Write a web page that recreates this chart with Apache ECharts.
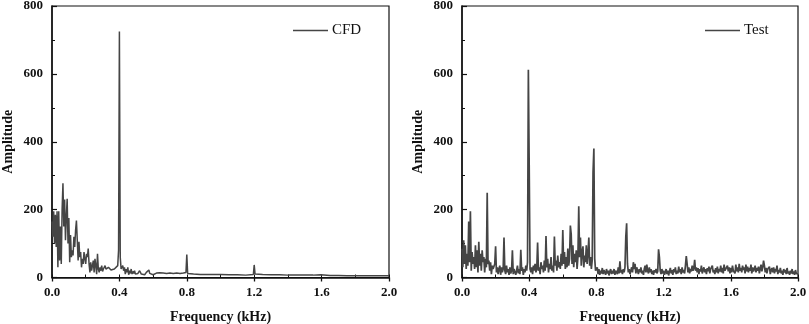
<!DOCTYPE html>
<html>
<head>
<meta charset="utf-8">
<script src="https://cdn.jsdelivr.net/npm/echarts/dist/echarts.min.js"></script>
<style>
  html, body { margin: 0; padding: 0; background: #fff; }
  #main { width: 809px; height: 324px; }
</style>
</head>
<body>
<div id="main"></div>
<script>
// x ticks / y ticks
const xTicks = [0.0, 0.4, 0.8, 1.2, 1.6, 2.0];
const yTicks = [0, 200, 400, 600, 800];

// CFD spectrum, [frequency kHz, amplitude]
const cfdPoints = [
  [0.000, 165], [0.005, 120], [0.010, 195], [0.015, 100], [0.020, 185], [0.025, 90],
  [0.030, 195], [0.035, 30], [0.040, 195], [0.045, 50], [0.050, 150], [0.055, 40],
  [0.060, 200], [0.065, 278], [0.070, 150], [0.075, 230], [0.080, 110], [0.085, 180],
  [0.090, 232], [0.095, 100], [0.100, 175], [0.105, 45], [0.110, 125], [0.115, 60],
  [0.120, 80], [0.125, 65], [0.130, 120], [0.135, 90], [0.140, 140], [0.145, 168],
  [0.150, 110], [0.155, 50], [0.160, 105], [0.165, 60], [0.170, 75], [0.175, 30],
  [0.180, 55], [0.185, 40], [0.190, 75], [0.195, 55], [0.200, 40], [0.205, 70],
  [0.210, 60], [0.215, 85], [0.220, 40], [0.225, 15], [0.230, 45], [0.235, 20],
  [0.240, 25], [0.245, 50], [0.250, 15], [0.255, 55], [0.260, 35], [0.265, 10],
  [0.270, 70], [0.275, 25], [0.280, 15], [0.285, 30], [0.290, 20], [0.295, 35],
  [0.300, 18], [0.305, 25], [0.310, 20], [0.315, 35], [0.320, 25], [0.325, 30],
  [0.330, 22], [0.335, 30], [0.340, 25], [0.345, 28], [0.350, 22], [0.360, 25],
  [0.370, 25], [0.380, 30], [0.390, 35], [0.395, 80], [0.400, 725], [0.405, 60],
  [0.410, 25], [0.415, 20], [0.420, 35], [0.425, 20], [0.430, 30], [0.435, 10],
  [0.440, 25], [0.445, 15], [0.450, 30], [0.455, 8], [0.460, 20], [0.465, 12],
  [0.470, 25], [0.475, 10], [0.480, 18], [0.485, 12], [0.490, 20], [0.495, 10],
  [0.500, 15], [0.505, 8], [0.510, 12], [0.520, 20], [0.530, 10], [0.540, 15],
  [0.550, 8], [0.560, 15], [0.570, 10], [0.575, 22], [0.580, 12], [0.590, 10],
  [0.600, 8], [0.610, 12], [0.620, 13], [0.640, 14], [0.660, 13], [0.680, 12],
  [0.700, 13], [0.720, 12], [0.740, 13], [0.760, 12], [0.780, 13], [0.790, 12],
  [0.795, 15], [0.800, 68], [0.805, 12], [0.810, 10], [0.840, 10], [0.880, 9],
  [0.920, 9], [0.960, 9], [1.000, 9], [1.050, 8], [1.100, 8], [1.150, 7],
  [1.195, 9], [1.200, 37], [1.205, 10], [1.250, 9], [1.300, 8], [1.350, 8],
  [1.400, 7], [1.450, 7], [1.500, 7], [1.550, 7], [1.595, 8], [1.600, 12],
  [1.605, 8], [1.650, 6], [1.700, 6], [1.750, 5], [1.800, 5], [1.850, 5],
  [1.900, 5], [1.950, 5], [2.000, 5]
];

// Test spectrum, one amplitude every 0.005 kHz from 0 to 2.0 (20 per row = 0.1 kHz)
const testStep = 0.005;
const testAmp = [
  85, 30, 110, 40, 95, 25, 70, 35, 165, 45, 195, 20, 75, 40, 60, 25, 95, 30, 80, 15,
  105, 35, 70, 20, 80, 45, 60, 15, 55, 30, 250, 40, 50, 20, 45, 10, 35, 25, 20, 40,
  92, 15, 30, 10, 25, 35, 8, 30, 15, 25, 118, 20, 10, 35, 15, 25, 8, 30, 12, 20,
  80, 10, 25, 30, 8, 20, 35, 12, 25, 10, 82, 20, 30, 8, 25, 15, 35, 20, 45, 612,
  330, 25, 15, 30, 10, 35, 20, 40, 15, 25, 103, 20, 30, 10, 45, 25, 35, 15, 50, 20,
  122, 30, 55, 15, 40, 25, 60, 20, 35, 15, 121, 35, 50, 20, 65, 30, 45, 25, 70, 35,
  140, 40, 75, 25, 60, 30, 85, 35, 55, 153, 128, 40, 95, 30, 70, 45, 80, 25, 60, 210,
  60, 118, 35, 75, 92, 30, 65, 45, 95, 40, 70, 118, 35, 60, 25, 50, 310, 380, 55, 20,
  15, 30, 10, 25, 8, 20, 12, 28, 10, 22, 15, 8, 25, 12, 20, 6, 18, 25, 10, 20,
  12, 25, 8, 20, 15, 10, 30, 12, 48, 15, 22, 10, 25, 15, 30, 120, 160, 40, 15, 25,
  10, 20, 30, 15, 45, 25, 40, 12, 30, 20, 10, 25, 15, 30, 12, 20, 8, 25, 35, 15,
  38, 20, 12, 30, 15, 25, 10, 20, 8, 22, 15, 25, 12, 18, 83, 60, 20, 10, 25, 12,
  20, 8, 15, 25, 10, 20, 6, 18, 28, 12, 22, 8, 25, 15, 30, 10, 20, 12, 32, 15,
  25, 10, 30, 15, 22, 12, 35, 63, 40, 15, 30, 12, 25, 18, 35, 20, 28, 52, 20, 30,
  15, 28, 10, 25, 18, 35, 12, 22, 30, 15, 25, 10, 28, 18, 32, 12, 25, 20, 35, 15,
  22, 10, 28, 15, 32, 12, 25, 18, 35, 15, 28, 12, 38, 20, 25, 15, 35, 18, 30, 12,
  28, 15, 35, 20, 25, 12, 38, 18, 30, 15, 40, 20, 28, 15, 35, 22, 30, 12, 38, 18,
  32, 15, 28, 20, 38, 12, 30, 18, 25, 35, 15, 28, 20, 32, 12, 25, 38, 18, 30, 50,
  35, 15, 28, 12, 25, 20, 32, 10, 22, 28, 15, 30, 12, 25, 18, 35, 10, 22, 15, 28,
  12, 20, 8, 25, 15, 22, 10, 28, 12, 18, 8, 20, 12, 25, 10, 18, 8, 22, 12, 15,
  10
];

const seriesNames = ["CFD", "Test"];

const FONT = "'Liberation Serif', 'Times New Roman', serif";
const AXIS_COLOR = "#111";
const LINE_COLOR = "#454545";

const xStep = xTicks[1] - xTicks[0];
const yStep = yTicks[1] - yTicks[0];

// main bottom axis: labels + outward major ticks
const xMain = (grid) => ({
  type: "value",
  gridIndex: grid,
  position: "bottom",
  min: xTicks[0],
  max: xTicks[xTicks.length - 1],
  interval: xStep,
  name: "Frequency (kHz)",
  nameLocation: "middle",
  nameGap: 33,
  nameTextStyle: { fontFamily: FONT, fontWeight: "bold", fontSize: 14, color: AXIS_COLOR },
  axisLine: { show: true, lineStyle: { color: AXIS_COLOR, width: 1.5 } },
  axisTick: { show: true, inside: false, length: 4, lineStyle: { color: AXIS_COLOR, width: 1.3 } },
  axisLabel: {
    margin: 9,
    fontFamily: FONT,
    fontWeight: "bold",
    fontSize: 13,
    color: AXIS_COLOR,
    formatter: (v) => v.toFixed(1),
  },
  splitLine: { show: false },
});

// extra bottom axis only for the small inward ticks at every 0.2
const xMinor = (grid) => ({
  type: "value",
  gridIndex: grid,
  position: "bottom",
  min: xTicks[0],
  max: xTicks[xTicks.length - 1],
  interval: xStep / 2,
  axisLine: { show: false },
  axisTick: { show: true, inside: true, length: 3, lineStyle: { color: AXIS_COLOR, width: 1 } },
  axisLabel: { show: false },
  splitLine: { show: false },
});

const yMain = (grid) => ({
  type: "value",
  gridIndex: grid,
  min: yTicks[0],
  max: yTicks[yTicks.length - 1],
  interval: yStep,
  name: "Amplitude",
  nameLocation: "middle",
  nameGap: 37,
  nameTextStyle: { fontFamily: FONT, fontWeight: "bold", fontSize: 14, color: AXIS_COLOR },
  axisLine: { show: true, lineStyle: { color: AXIS_COLOR, width: 1.5 } },
  axisTick: { show: true, inside: true, length: 5, lineStyle: { color: AXIS_COLOR, width: 1.2 } },
  minorTick: { show: true, splitNumber: 2, length: 3, lineStyle: { color: AXIS_COLOR, width: 1 } },
  axisLabel: {
    margin: 9,
    fontFamily: FONT,
    fontWeight: "bold",
    fontSize: 13,
    color: AXIS_COLOR,
  },
  splitLine: { show: false },
});

const legendBase = {
  icon: "rect",
  itemWidth: 35,
  itemHeight: 1.4,
  top: 18,
  textStyle: { fontFamily: FONT, fontSize: 15, color: AXIS_COLOR, padding: [0, 0, 0, -1] },
};

let myChart = echarts.init(document.getElementById("main"), null, { renderer: "canvas" });

let option = {
  animation: false,
  backgroundColor: "#fff",
  grid: [
    {
      left: 52, top: 6, width: 337, height: 271.5,
      outerBoundsMode: "none",
      show: true, borderColor: AXIS_COLOR, borderWidth: 1.2,
    },
    {
      left: 462, top: 6, width: 336, height: 271.5,
      outerBoundsMode: "none",
      show: true, borderColor: AXIS_COLOR, borderWidth: 1.2,
    },
  ],
  legend: [
    Object.assign({}, legendBase, { data: [seriesNames[0]], left: 288 }),
    Object.assign({}, legendBase, { data: [seriesNames[1]], left: 700 }),
  ],
  xAxis: [xMain(0), xMinor(0), xMain(1), xMinor(1)],
  yAxis: [yMain(0), yMain(1)],
  series: [
    {
      name: seriesNames[0],
      type: "line",
      xAxisIndex: 0,
      yAxisIndex: 0,
      symbol: "none",
      color: LINE_COLOR,
      lineStyle: { color: LINE_COLOR, width: 1.5 },
      data: cfdPoints,
    },
    {
      name: seriesNames[1],
      type: "line",
      xAxisIndex: 2,
      yAxisIndex: 1,
      symbol: "none",
      color: LINE_COLOR,
      lineStyle: { color: LINE_COLOR, width: 1.7 },
      data: testAmp.map((v, i) => [i * testStep, v]),
    },
  ],
};
myChart.setOption(option);
</script>
</body>
</html>
